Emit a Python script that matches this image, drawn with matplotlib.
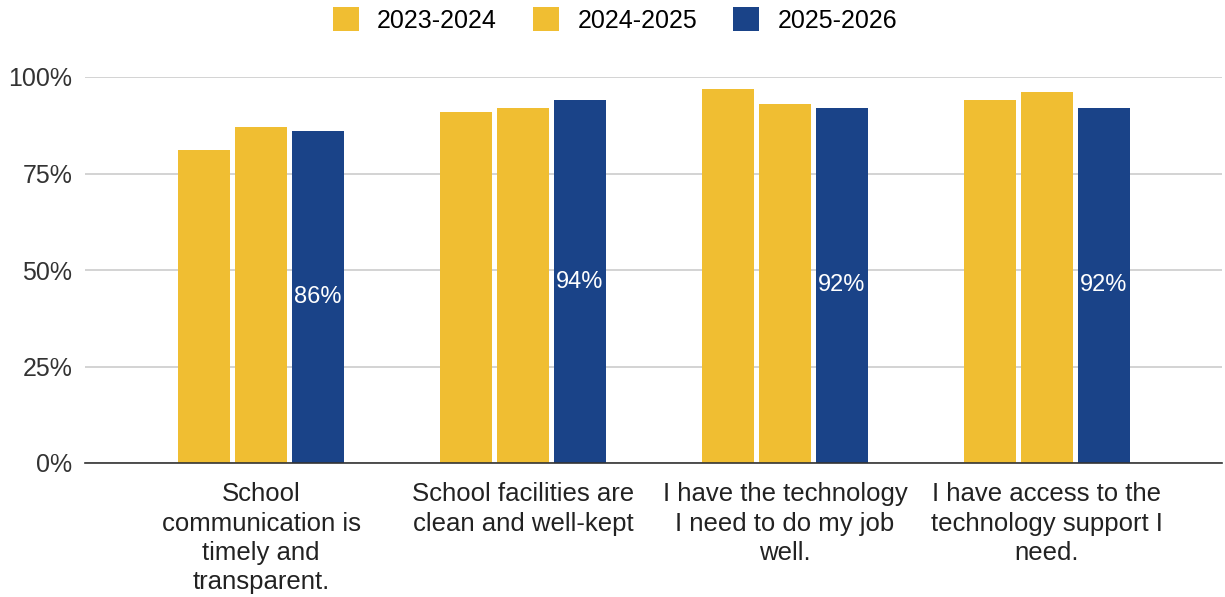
import numpy as np
import matplotlib.pyplot as plt
from matplotlib.ticker import FuncFormatter

plt.rcParams['font.family'] = ['Liberation Sans', 'DejaVu Sans']

categories = [
    "School\ncommunication is\ntimely and\ntransparent.",
    "School facilities are\nclean and well-kept",
    "I have the technology\nI need to do my job\nwell.",
    "I have access to the\ntechnology support I\nneed.",
]
series_names = ["2023-2024", "2024-2025", "2025-2026"]
vals_2324 = [81, 91, 97, 94]
vals_2425 = [87, 92, 93, 96]
vals_2526 = [86, 94, 92, 92]
colors = ["#F0BE32", "#F0BE32", "#1A4388"]

fig = plt.figure(figsize=(12.25, 5.97), dpi=100)
ax = fig.add_axes([85 / 1225, 1 - 463 / 597, (1222 - 85) / 1225, (463 - 77) / 597])

x = np.arange(len(categories))
width = 0.198
step = 0.217
all_vals = [vals_2324, vals_2425, vals_2526]
for i, (name, vals, c) in enumerate(zip(series_names, all_vals, colors)):
    bars = ax.bar(x + (i - 1) * step, vals, width, color=c, label=name, zorder=3)
    if i == 2:
        for b, v in zip(bars, vals):
            ax.text(b.get_x() + b.get_width() / 2, v / 2, f"{v}%", color="white",
                    ha="center", va="center", fontsize=17, zorder=4)

ax.set_ylim(0, 100)
ax.set_xlim(-0.672, 3.668)
ax.set_yticks([0, 25, 50, 75, 100])
ax.yaxis.set_major_formatter(FuncFormatter(lambda v, p: f"{int(v)}%"))
ax.grid(axis="y", color="#cccccc", linewidth=1.2, zorder=0)
ax.set_xticks(x)
ax.set_xticklabels(categories, fontsize=18.5, color="#222222", linespacing=1.27)
ax.tick_params(axis="both", length=0)
ax.tick_params(axis="y", labelsize=18, labelcolor="#333333", pad=9)
ax.tick_params(axis="x", pad=14)
for s in ["top", "right", "left"]:
    ax.spines[s].set_visible(False)
ax.spines["bottom"].set_color("#333333")
ax.spines["bottom"].set_linewidth(1.2)
ax.spines["bottom"].set_zorder(5)

fig.legend(loc="center", bbox_to_anchor=(615 / 1225, 1 - 20 / 597), ncol=3, frameon=False,
           fontsize=18, handlelength=1.05, handleheight=1.05, columnspacing=1.44, handletextpad=0.72)

fig.savefig("out.png", dpi=100)
